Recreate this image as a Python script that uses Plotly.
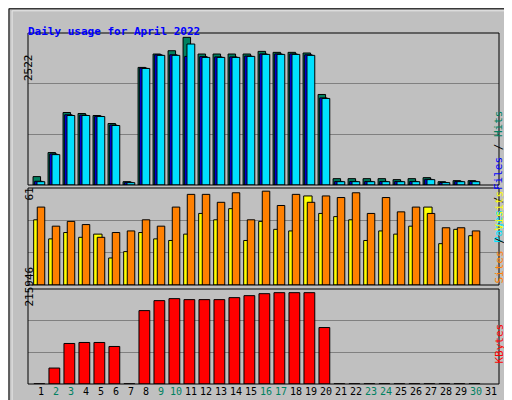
import plotly.graph_objects as go

days = list(range(1, 31))
day_labels = [str(d) for d in range(1, 32)]
weekend = {2, 3, 9, 10, 16, 17, 23, 24, 30}

hits = [139, 538, 1203, 1186, 1153, 1020, 55, 1951, 2173, 2228, 2450, 2173, 2173, 2173, 2173,
        2217, 2201, 2201, 2190, 1502, 105, 105, 105, 105, 89, 105, 122, 55, 72, 72]
files = [62, 515, 1165, 1160, 1140, 995, 45, 1940, 2160, 2160, 2134, 2130, 2125, 2125, 2140,
         2175, 2175, 2175, 2160, 1445, 60, 60, 60, 60, 60, 60, 95, 42, 60, 60]
pages = [55, 504, 1153, 1153, 1136, 987, 39, 1934, 2151, 2151, 2339, 2117, 2117, 2117, 2134,
         2167, 2167, 2167, 2151, 1436, 55, 55, 55, 55, 55, 55, 89, 39, 55, 55]
visits = [41, 29, 33, 30, 32, 17, 21, 33, 29, 28, 32, 45, 41, 48, 28,
          40, 35, 34, 56, 45, 43, 41, 28, 34, 32, 37, 49, 26, 35, 31]
sites = [49, 37, 40, 38, 30, 33, 34, 41, 37, 49, 57, 57, 52, 58, 41,
         59, 50, 57, 52, 56, 55, 58, 45, 55, 46, 49, 45, 36, 36, 34]
kbytes = [400, 36240, 92110, 94375, 94375, 85315, 400, 166855, 189505, 194035, 191770, 191770,
          191770, 196300, 200830, 205360, 207625, 207625, 207625, 128350,
          400, 400, 400, 400, 400, 400, 400, 400, 400, 400]
max_hits, max_sites, max_kb = 2522, 61, 215946

BLK = dict(color="black", width=1)
fig = go.Figure()
def bar(y, color, off, w, ax):
    fig.add_trace(go.Bar(x=days, y=y, offset=off, width=w, marker=dict(color=color, line=BLK),
                         xaxis="x" + ax, yaxis="y" + ax, showlegend=False, hoverinfo="skip"))
bar(hits, "#008060", -0.53, 0.5, "")
bar(files, "#0000ff", -0.42, 0.5, "")
bar(pages, "#00e0ff", -0.27, 0.52, "")
bar(visits, "#ffff00", -0.49, 0.56, "2")
bar(sites, "#ff8000", -0.25, 0.5, "2")
bar(kbytes, "#ff0000", -0.47, 0.72, "3")

xr = [0.133, 31.53]
xd = [20 / 512, 491 / 512]
mono = "DejaVu Sans Mono"
ticktext = [f'<span style="color:{"#008060" if d in weekend else "black"}">{d}</span>' for d in range(1, 32)]
common_y = dict(showgrid=True, gridcolor="#808080", gridwidth=1, zeroline=False, showticklabels=False, ticks="")
fig.update_layout(
    width=512, height=400, margin=dict(l=0, r=0, t=0, b=0),
    paper_bgcolor="#c0c0c0", plot_bgcolor="#c0c0c0", barmode="overlay",
    font=dict(family=mono, size=11, color="black"),
    xaxis=dict(domain=xd, range=xr, showticklabels=False, showgrid=False, zeroline=False, anchor="y"),
    xaxis2=dict(domain=xd, range=xr, showticklabels=False, showgrid=False, zeroline=False, anchor="y2"),
    xaxis3=dict(domain=xd, range=xr, tickvals=list(range(1, 32)), ticktext=ticktext, showgrid=False,
                zeroline=False, anchor="y3", ticks="", tickangle=0, ticklen=0,
                tickfont=dict(family=mono, size=10)),
    yaxis=dict(domain=[0.5575, 0.9375], range=[0, max_hits], tickvals=[max_hits / 3, 2 * max_hits / 3], **common_y),
    yaxis2=dict(domain=[0.3075, 0.55], range=[0, max_sites], tickvals=[max_sites / 3, 2 * max_sites / 3], **common_y),
    yaxis3=dict(domain=[0.06, 0.2975], range=[0, max_kb], tickvals=[max_kb / 3, 2 * max_kb / 3], **common_y),
)
shapes = [dict(type="rect", xref="paper", yref="paper", x0=0.002, x1=0.998, y0=0.002, y1=0.998,
               line=dict(color="black", width=1)),
          dict(type="rect", xref="paper", yref="paper", x0=0.008, x1=0.99, y0=0.012, y1=0.993,
               line=dict(color="#e8e8e8", width=1))]
for y0, y1 in [(0.5575, 0.9375), (0.3075, 0.55), (0.06, 0.2975)]:
    shapes.append(dict(type="rect", xref="paper", yref="paper", x0=xd[0], x1=xd[1], y0=y0, y1=y1,
                       line=dict(color="black", width=1)))
fig.update_layout(shapes=shapes)

def ann(text, x, y, angle=-90, color="black", **kw):
    fig.add_annotation(text=text, x=x / 512, y=1 - y / 400, xref="paper", yref="paper",
                       showarrow=False, textangle=angle, font=dict(family=mono, size=11, color=color), **kw)

ann('<b>Daily usage for April 2022</b>', 18, 15, angle=0, color="#0000ff", xanchor="left")
ann(str(max_hits), 12, 44)
ann(str(max_sites), 12, 186)
ann(str(max_kb), 12, 301)
ann('<span style="color:#00e0ff">Pages</span> / <span style="color:#0000ff">Files</span> / '
    '<span style="color:#008060">Hits</span>', 499, 100)
ann('<span style="color:#ff8000">Sites</span> / <span style="color:#ffff00">Visits</span>', 499, 229)
ann('<span style="color:#ff0000">KBytes</span>', 499, 358)

fig.write_html("out.html")
